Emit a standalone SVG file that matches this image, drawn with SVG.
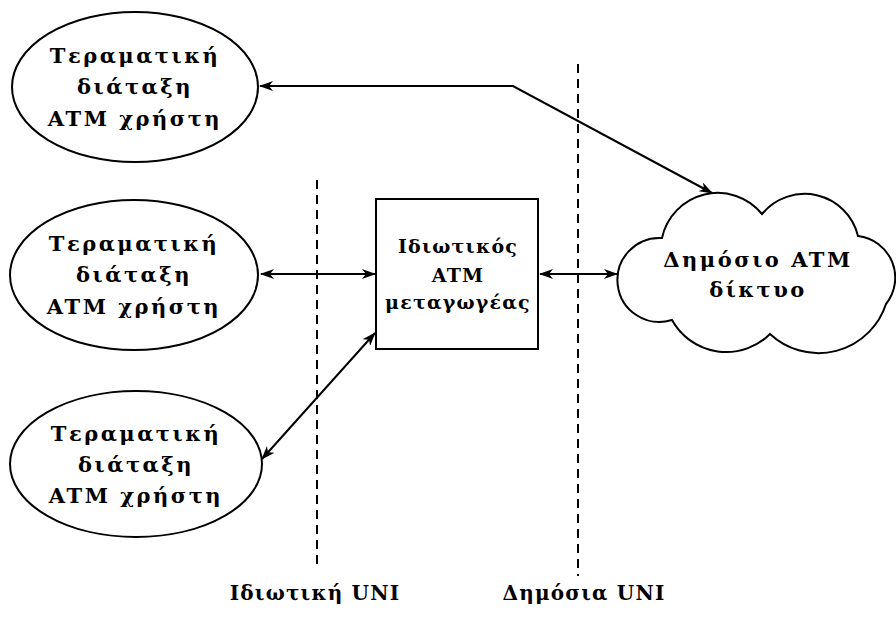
<svg xmlns="http://www.w3.org/2000/svg" width="896" height="618" viewBox="0 0 896 618">
<style>
.shape{fill:#fff;stroke:#000;stroke-width:2}
.t{font-family:"DejaVu Serif","Liberation Serif",serif;font-weight:bold;font-size:21px;letter-spacing:2.5px;text-anchor:middle;fill:#000}
.s{font-size:19px;letter-spacing:1.2px}
.l{font-size:20px;letter-spacing:1.2px}
.conn{fill:none;stroke:#000;stroke-width:2}
.dash{fill:none;stroke:#000;stroke-width:2;stroke-dasharray:9 6}
</style>
<defs>
<marker id="ah" viewBox="0 0 14 10" refX="13" refY="5" markerWidth="14" markerHeight="10" markerUnits="userSpaceOnUse" orient="auto-start-reverse">
<path d="M0,0 L14,5 L0,10 L4,5 Z" fill="#000"/>
</marker>
</defs>
<g id="boundaries">
<line class="dash" x1="317" y1="180" x2="317" y2="570"/>
<line class="dash" x1="578" y1="64" x2="578" y2="576"/>
</g>
<g id="user1">
<ellipse class="shape" cx="135" cy="87" rx="123" ry="75"/>
<text class="t" x="135" y="63">Τεραματική</text>
<text class="t" x="135" y="94">διάταξη</text>
<text class="t" x="135" y="126">ATM χρήστη</text>
</g>
<g id="user2">
<ellipse class="shape" cx="134" cy="275" rx="124" ry="75"/>
<text class="t" x="134" y="251">Τεραματική</text>
<text class="t" x="134" y="282">διάταξη</text>
<text class="t" x="134" y="314">ATM χρήστη</text>
</g>
<g id="user3">
<ellipse class="shape" cx="136" cy="464" rx="126" ry="73"/>
<text class="t" x="136" y="441">Τεραματική</text>
<text class="t" x="136" y="472">διάταξη</text>
<text class="t" x="136" y="503">ATM χρήστη</text>
</g>
<g id="switch">
<rect class="shape" x="376" y="199" width="162" height="150"/>
<text class="t s" x="458" y="253">Ιδιωτικός</text>
<text class="t s" x="458" y="282">ATM</text>
<text class="t s" x="458" y="309">μεταγωγέας</text>
</g>
<g id="network">
<path class="shape" d="M662,238 A57,57 0 0 1 762,214 A55,55 0 0 1 858,236 A42,42 0 0 1 886,304 A71,71 0 0 1 770,334 A62,62 0 0 1 672,320 A42,42 0 1 1 662,238 Z"/>
<text class="t" x="758" y="267">Δημόσιο ATM</text>
<text class="t" x="758" y="297">δίκτυο</text>
</g>
<g id="labels">
<text class="t l" x="315" y="600">Ιδιωτική UNI</text>
<text class="t l" x="584" y="600">Δημόσια UNI</text>
</g>
<g id="connectors">
<polyline class="conn" points="260,86 513,86 712,193" marker-start="url(#ah)" marker-end="url(#ah)"/>
<line class="conn" x1="261" y1="274" x2="375" y2="274" marker-start="url(#ah)" marker-end="url(#ah)"/>
<line class="conn" x1="540" y1="274" x2="617" y2="274" marker-start="url(#ah)" marker-end="url(#ah)"/>
<line class="conn" x1="262" y1="459" x2="375" y2="333" marker-start="url(#ah)" marker-end="url(#ah)"/>
</g>
</svg>
